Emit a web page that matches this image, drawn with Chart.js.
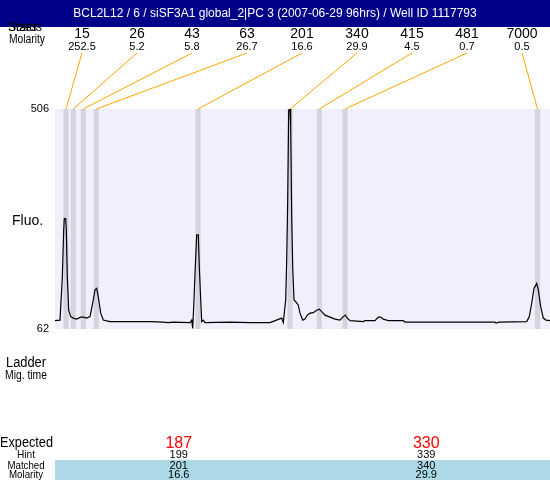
<!DOCTYPE html>
<html>
<head>
<meta charset="utf-8">
<script src="https://cdn.jsdelivr.net/npm/chart.js@4.4.1/dist/chart.umd.min.js"></script>
<style>
    body { margin: 0; background: #fff; }
    #wrap { width: 550px; height: 480px; }
</style>
</head>
<body>
<div id="wrap"><canvas id="traceChart" width="550" height="480"></canvas></div>
<script>
const titleText = 'BCL2L12 / 6 / siSF3A1 global_2|PC 3 (2007-06-29 96hrs) / Well ID 1117793';

// Detected peaks (size, molarity, migration position)
const peakSizes = ['15', '26', '43', '63', '201', '340', '415', '481', '7000'];
const peakMolarity = ['252.5', '5.2', '5.8', '26.7', '16.6', '29.9', '4.5', '0.7', '0.5'];
const peakTimes = [11, 18.3, 28.3, 41.3, 143, 235, 264.3, 290, 482.5];

// Electropherogram trace
const traceTime = [0, 5, 7.3, 8.7, 9.3, 10.7, 11.3, 12.3, 13.7, 15.7, 18.3, 21.7, 25.7, 28.3, 31.7, 35, 37.7, 40, 41.7, 43.3,
    45.7, 48.3, 55, 95, 108, 113, 118, 135, 136.7, 137.7, 139, 140.3, 141.7, 143.3, 144.3, 145.7, 146.7, 148.3, 150, 175,
    195, 215, 226.7, 228.3, 230.7, 231.7, 232.7, 233.7, 235, 235.7, 236.7, 237.7, 239, 240.7, 243.3, 245, 247.7, 250, 252.3, 255,
    258.3, 261.7, 264.3, 266.7, 270, 275, 280, 285, 288.3, 290.3, 292.3, 295, 308.3, 310, 320, 323.3, 325.7, 328.3, 333.3, 348.3,
    350, 395, 440, 441, 444, 471.7, 474.3, 476.7, 479, 481.7, 483.3, 485.7, 488.3, 491, 495];
const traceFluo = [79, 80, 165, 262, 285, 285, 262, 168, 100, 87, 84, 82, 86, 86, 84, 87, 114, 141, 144, 127,
    94, 80, 77, 77, 76, 75, 76, 75, 80, 63, 121, 188, 252, 252, 188, 121, 77, 80, 75, 76,
    75, 75, 84, 75, 121, 201, 322, 504, 506, 470, 289, 188, 121, 117, 110, 94, 80, 82, 90, 94,
    95, 100, 102, 97, 90, 86, 82, 80, 87, 90, 84, 79, 77, 79, 79, 86, 86, 82, 79, 79,
    76, 76, 76, 74, 76, 77, 87, 114, 144, 154, 141, 107, 84, 80, 79];

const yTicks = [62, 506];

// Expected / matched table
const expectedSizes = ['187', '330'];
const hintSizes = ['199', '339'];
const matchedSizes = ['201', '340'];
const matchedMolarity = ['16.6', '29.9'];

const FONT = "'Liberation Sans', Arial, sans-serif";

function text(ctx, str, x, y, size, align, color, maxW) {
    ctx.font = size + 'px ' + FONT;
    ctx.textAlign = align || 'left';
    ctx.textBaseline = 'middle';
    ctx.fillStyle = color || '#000';
    if (maxW) ctx.fillText(str, x, y, maxW);
    else ctx.fillText(str, x, y);
}

const decorations = {
    id: 'decorations',
    beforeDraw(chart) {
        const ctx = chart.ctx;
        const area = chart.chartArea;
        ctx.save();
        ctx.fillStyle = '#fff';
        ctx.fillRect(0, 0, chart.width, chart.height);
        // title bar
        ctx.fillStyle = '#000088';
        ctx.fillRect(0, 0, chart.width, 27);
        text(ctx, titleText, chart.width / 2, 14, 12, 'center', '#fff');
        // plot background
        ctx.fillStyle = '#f0f0fc';
        ctx.fillRect(area.left, area.top, area.right - area.left, area.bottom - area.top);
        ctx.restore();
    },
    afterDraw(chart) {
        const ctx = chart.ctx;
        const area = chart.chartArea;
        const xs = chart.scales.x;
        ctx.save();

        // peak header
        text(ctx, 'Status', 8, 28, 12, 'left', '#000', 34);
        text(ctx, 'Sizes', 8, 28, 12, 'left', '#000', 34);
        text(ctx, 'Molarity', 9, 40, 12, 'left', '#000', 36);
        ctx.strokeStyle = '#ffa500';
        ctx.lineWidth = 1;
        peakSizes.forEach((s, i) => {
            const lx = 82 + 55 * i;
            text(ctx, s, lx, 34, 14, 'center');
            text(ctx, peakMolarity[i], lx, 47, 11, 'center');
            ctx.beginPath();
            ctx.moveTo(lx, 53);
            ctx.lineTo(xs.getPixelForValue(peakTimes[i]), area.top);
            ctx.stroke();
        });

        text(ctx, 'Fluo.', 12, 221, 14, 'left');

        // ladder section
        text(ctx, 'Ladder', 26, 363, 14, 'center', '#000', 40);
        text(ctx, 'Mig. time', 26, 376, 12, 'center', '#000', 42);

        // expected table
        ctx.fillStyle = '#add8e6';
        ctx.fillRect(area.left, 460, area.right - area.left, chart.height - 460);
        text(ctx, 'Expected', 0, 443, 14, 'left', '#000', 53);
        text(ctx, 'Hint', 26, 455, 11, 'center', '#000', 18);
        text(ctx, 'Matched', 26, 466, 11, 'center', '#000', 37);
        text(ctx, 'Molarity', 26, 475, 11, 'center', '#000', 34);
        const colW = (area.right - area.left) / expectedSizes.length;
        expectedSizes.forEach((e, i) => {
            const cx = area.left + colW * (i + 0.5);
            text(ctx, e, cx, 444, 16, 'center', '#ff0000');
            text(ctx, hintSizes[i], cx, 455, 11, 'center');
            text(ctx, matchedSizes[i], cx, 466, 11, 'center');
            text(ctx, matchedMolarity[i], cx, 475, 11, 'center');
        });
        ctx.restore();
    }
};

const config = {
    type: 'line',
    data: {
        datasets: [{
            type: 'line',
            data: traceTime.map((t, i) => ({ x: t, y: traceFluo[i] })),
            borderColor: '#000',
            borderWidth: 1.2,
            pointRadius: 0,
            tension: 0,
            order: 0
        }, {
            type: 'bar',
            data: peakTimes.map(t => ({ x: t, y: [yTicks[0], yTicks[1]] })),
            backgroundColor: '#d4d4e0',
            barThickness: 4.5,
            grouped: false,
            order: 1
        }]
    },
    options: {
        responsive: false,
        animation: false,
        layout: { padding: { left: 0, right: 0, top: 109, bottom: 151 } },
        plugins: {
            legend: { display: false },
            tooltip: { enabled: false }
        },
        scales: {
            x: {
                type: 'linear',
                min: 0,
                max: 495,
                offset: false,
                display: false
            },
            y: {
                min: yTicks[0],
                max: yTicks[1],
                grid: { display: false, drawTicks: false },
                border: { display: false },
                ticks: {
                    padding: 6,
                    color: '#000',
                    font: { family: FONT, size: 11 }
                },
                afterBuildTicks: scale => { scale.ticks = yTicks.map(v => ({ value: v })); },
                afterFit: scale => { scale.width = 55; }
            }
        }
    },
    plugins: [decorations]
};

new Chart(document.getElementById('traceChart').getContext('2d'), config);
</script>
</body>
</html>
